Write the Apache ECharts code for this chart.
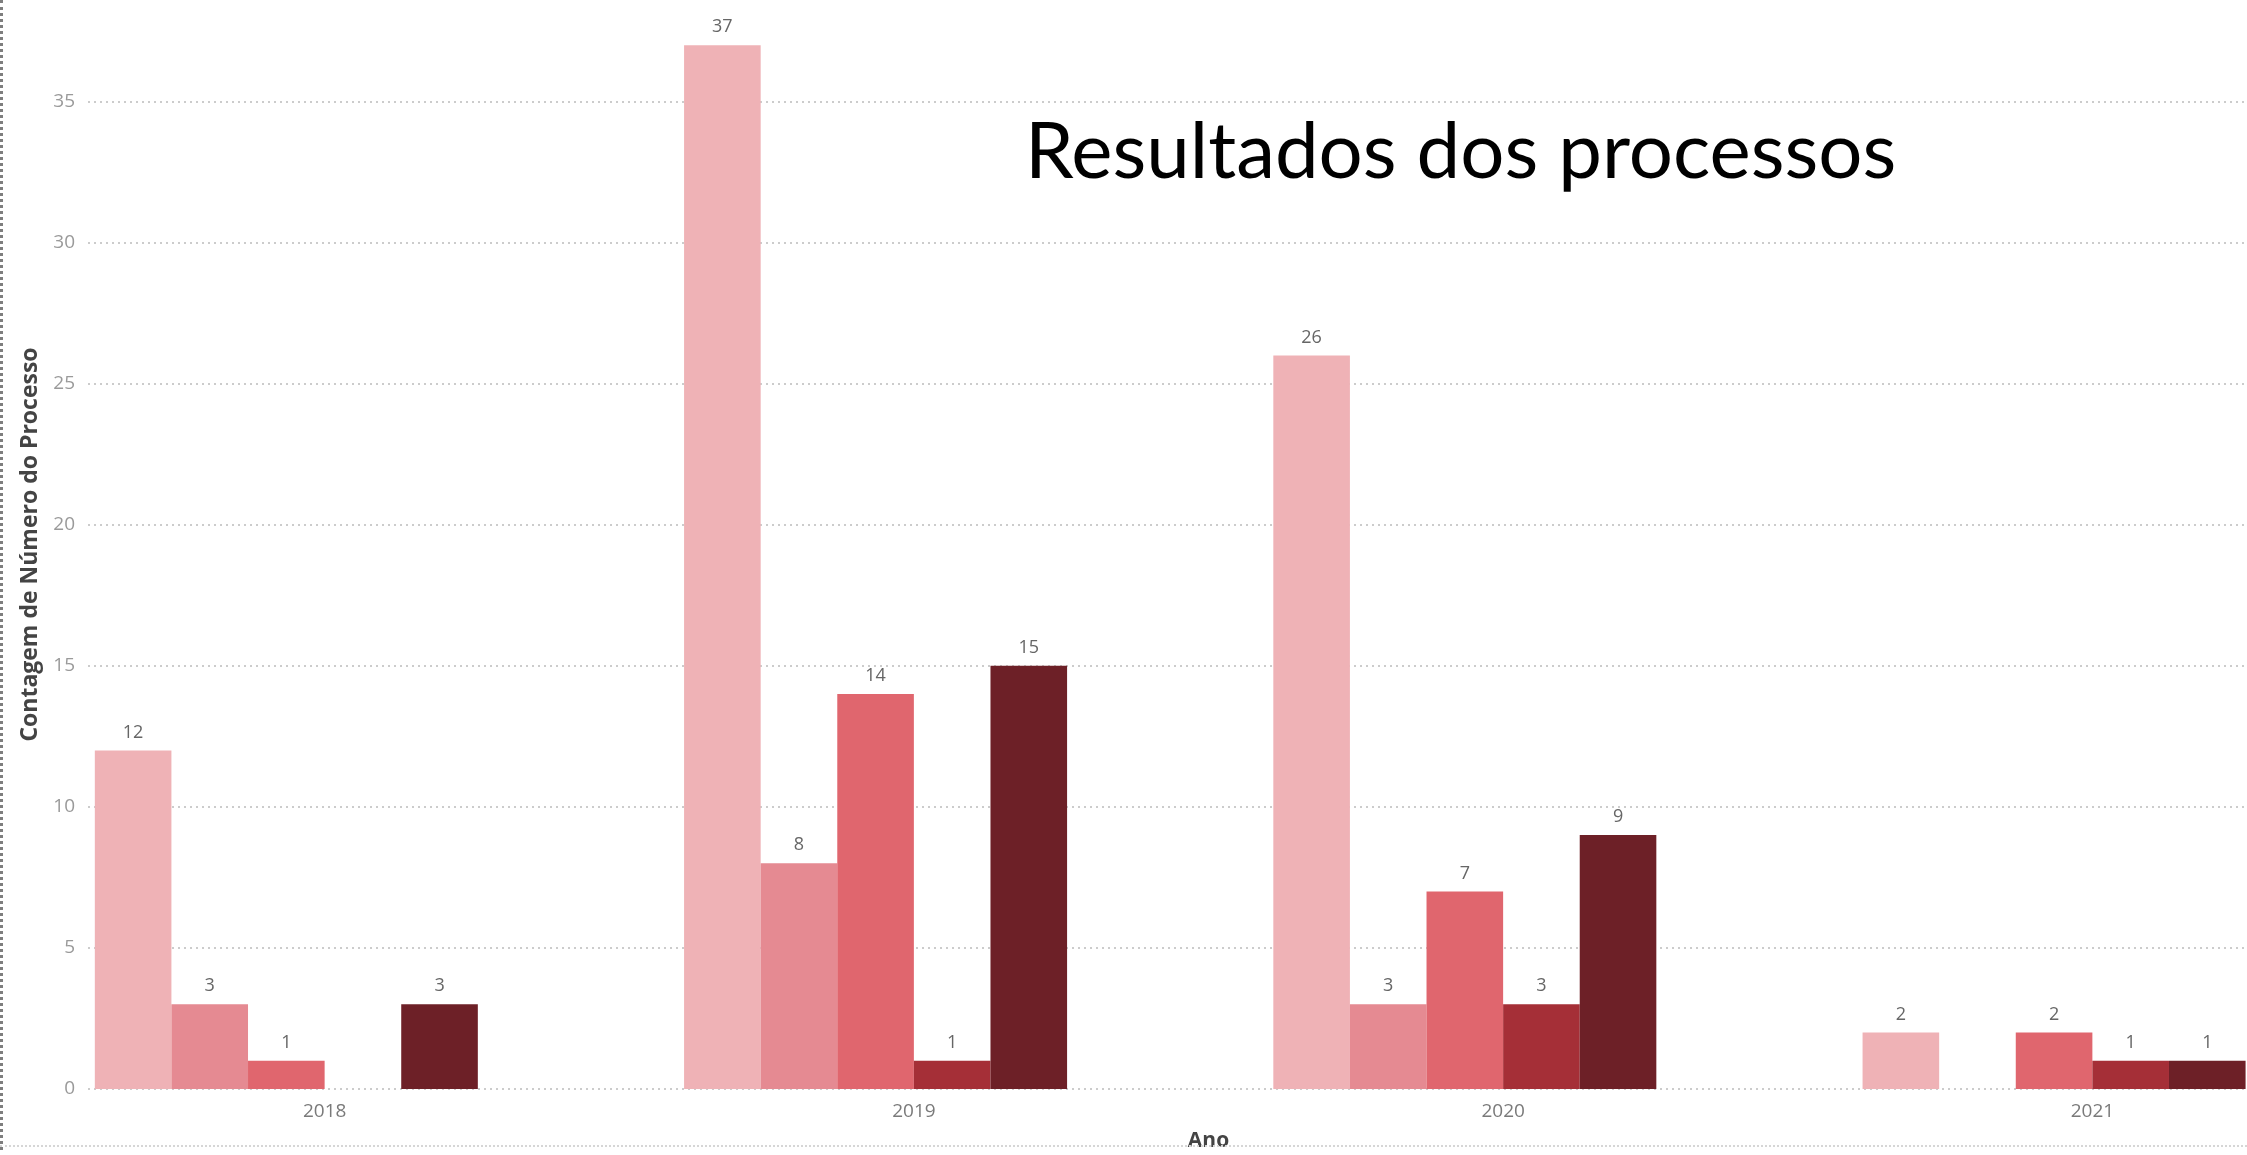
<!DOCTYPE html>
<html>
<head>
<meta charset="utf-8">
<title>Resultados dos processos</title>
<script src="https://cdn.jsdelivr.net/npm/echarts@6/dist/echarts.min.js"></script>
<style>
  html, body { margin: 0; padding: 0; background: #ffffff; }
  #chart { width: 2247px; height: 1155px; }
  .frame-left { position: absolute; left: 0; top: 0; height: 1150px; width: 0; border-left: 3px dotted #7e7e7e; }
  .frame-bottom { position: absolute; left: 0; top: 1145px; width: 2247px; height: 0; border-top: 2px dotted #d6d6d6; }
</style>
</head>
<body>
<div id="chart"></div>
<div class="frame-left"></div>
<div class="frame-bottom"></div>
<script>
// Contagem de processos por ano e por resultado
const anos = ['2018', '2019', '2020', '2021'];
const resultado1 = [12, 37, 26, 2];
const resultado2 = [3, 8, 3, null];
const resultado3 = [1, 14, 7, 2];
const resultado4 = [null, 1, 3, 1];
const resultado5 = [3, 15, 9, 1];
const resultado6 = [null, null, null, null];

const cores = ['#EFB2B6', '#E58A92', '#E0666E', '#A52F37', '#6D2027', '#4A1418'];
const serieValores = [resultado1, resultado2, resultado3, resultado4, resultado5, resultado6];

const eixoYMax = 38.6;
const eixoYIntervalo = 5;

const fonteUI = '"Open Sans", "Noto Sans", sans-serif';

const chart = echarts.init(document.getElementById('chart'), null, { renderer: 'canvas' });

const series = serieValores.map((vals, i) => ({
  type: 'bar',
  xAxisIndex: 1,
  yAxisIndex: 1,
  data: vals,
  barGap: '0%',
  barCategoryGap: '22%',
  itemStyle: { color: cores[i] },
  label: {
    show: true,
    position: 'top',
    distance: 9,
    color: '#666666',
    fontSize: 18,
    fontFamily: fonteUI
  }
}));

chart.setOption({
  animation: false,
  backgroundColor: '#ffffff',
  title: {
    text: 'Resultados dos processos',
    left: 1020,
    top: 109,
    textStyle: {
      fontFamily: 'Lato, "Open Sans", sans-serif',
      fontSize: 78,
      fontWeight: 'normal',
      color: '#000000'
    }
  },
  grid: [
    { left: 88, right: 0, top: 0, bottom: 66, containLabel: false, outerBoundsMode: 'none' },
    { left: 30, right: -140, top: 0, bottom: 66, containLabel: false, outerBoundsMode: 'none' }
  ],
  xAxis: [
    { gridIndex: 0, type: 'category', data: anos, show: false },
    {
      gridIndex: 1,
      type: 'category',
      data: anos,
      axisLine: { show: false },
      axisTick: { show: false },
      axisLabel: { color: '#7a7a7a', fontSize: 19, margin: 13, fontFamily: fonteUI },
      name: 'Ano',
      nameLocation: 'middle',
      nameGap: 42,
      nameTextStyle: { color: '#444444', fontSize: 21, fontWeight: 'bold', fontFamily: fonteUI }
    }
  ],
  yAxis: [
    {
      gridIndex: 0,
      type: 'value',
      min: 0,
      max: eixoYMax,
      interval: eixoYIntervalo,
      axisLine: { show: false },
      axisTick: { show: false },
      axisLabel: { color: '#9a9a9a', fontSize: 19, margin: 13, showMaxLabel: false, fontFamily: fonteUI },
      splitLine: {
        show: true,
        showMaxLine: false,
        lineStyle: { color: '#cccccc', type: [2, 4], width: 2 }
      },
      name: 'Contagem de Número do Processo',
      nameLocation: 'middle',
      nameGap: 46,
      nameTextStyle: { color: '#444444', fontSize: 23, fontWeight: 'bold', fontFamily: fonteUI }
    },
    { gridIndex: 1, type: 'value', min: 0, max: eixoYMax, interval: eixoYIntervalo, show: false, splitLine: { show: false } }
  ],
  series: series
});
</script>
</body>
</html>
